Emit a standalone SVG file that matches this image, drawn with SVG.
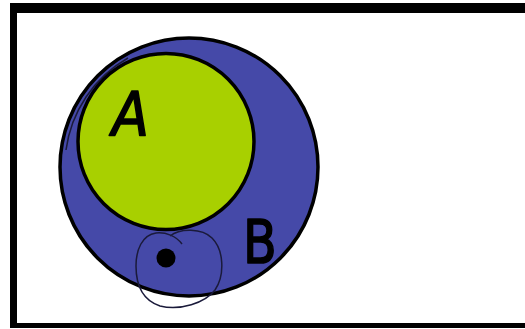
<svg xmlns="http://www.w3.org/2000/svg" width="525" height="329" viewBox="0 0 525 329">
<style>
.lbl{font-family:"DejaVu Sans","Liberation Sans",sans-serif;font-size:60px;fill:#000;stroke:#000;stroke-width:1.6;stroke-linejoin:round;}
.thin{fill:none;stroke:#1a1a3a;stroke-width:1.5;}
</style>
<rect width="525" height="329" fill="#fff"/>
<g id="universe"><path d="M 10 3 H 535 V 328 H 10 Z M 17 13 V 323 H 535 V 13 Z" fill="#000" fill-rule="evenodd"/></g>
<g id="setB">
<circle cx="189" cy="167" r="129" fill="#4549a8" stroke="#000" stroke-width="3.5"/>
<text class="lbl" x="243" y="263" transform="translate(243 0) scale(0.82 1) translate(-243 0)">B</text>
</g>
<g id="setA">
<path class="thin" d="M 66 150 A 125 125 0 0 1 128 58"/>
<circle cx="166" cy="141.5" r="88" fill="#a8d000" stroke="#000" stroke-width="3.5"/>
<text class="lbl" x="112" y="135" font-style="italic" transform="translate(112 0) scale(0.9 1) translate(-112 0)">A</text>
</g>
<g id="element">
<path class="thin" d="M 182 244 C 176 236 166 232 156 233 C 142 235 136 250 136 266 C 136 285 142 300 160 306 C 180 311 205 303 215 290 C 225 275 224 250 212 238 C 202 228 180 228 170 236"/>
<circle cx="166" cy="258" r="9.5" fill="#000"/>
</g>
<g id="connectors"></g>
</svg>
